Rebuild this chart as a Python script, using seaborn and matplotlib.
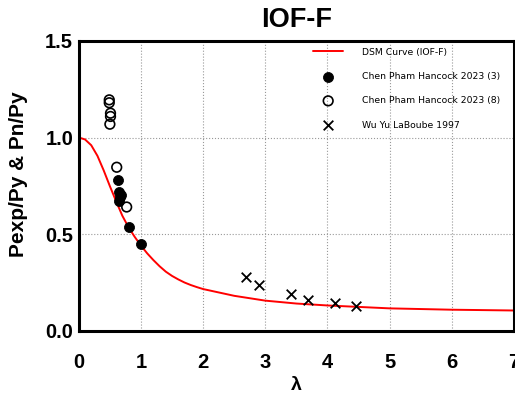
import seaborn as sns
import matplotlib.pyplot as plt
import pandas as pd
import numpy as np

# DSM 曲线 (从图中读取的点)
curve_lam = [0.0, 0.1, 0.2, 0.3, 0.4, 0.5, 0.6, 0.7, 0.8, 0.9, 1.0, 1.1, 1.2,
             1.3, 1.4, 1.5, 1.6, 1.7, 1.8, 1.9, 2.0, 2.5, 3.0, 3.5, 4.0, 5.0,
             6.0, 7.0]
curve_val = [1.0, 0.99, 0.96, 0.905, 0.83, 0.748, 0.67, 0.595, 0.535, 0.485,
             0.44, 0.40, 0.365, 0.333, 0.305, 0.283, 0.265, 0.249, 0.236, 0.225,
             0.215, 0.18, 0.155, 0.14, 0.13, 0.115, 0.108, 0.104]

# Chen Pham Hancock 2023 (3) - 实心圆
chen3_lam = [0.63, 0.65, 0.68, 0.64, 0.66, 0.80, 1.00]
chen3_val = [0.78, 0.72, 0.70, 0.67, 0.69, 0.535, 0.45]

# Chen Pham Hancock 2023 (8) - 空心圆
chen8_lam = [0.49, 0.49, 0.51, 0.51, 0.50, 0.61, 0.77]
chen8_val = [1.195, 1.18, 1.126, 1.109, 1.069, 0.846, 0.64]

# Wu Yu LaBoube 1997 - 叉
wu_lam = [2.69, 2.90, 3.41, 3.68, 4.12, 4.46]
wu_val = [0.28, 0.238, 0.19, 0.159, 0.141, 0.129]

sns.set_style("white")
plt.rcParams['font.family'] = ['Liberation Sans', 'DejaVu Sans']
plt.rcParams['text.color'] = 'black'
plt.rcParams['axes.labelcolor'] = 'black'
plt.rcParams['xtick.color'] = 'black'
plt.rcParams['ytick.color'] = 'black'

fig = plt.figure(figsize=(5.15, 3.94), dpi=100)
ax = fig.add_axes([0.153, 0.161, 0.845, 0.735])

curve = pd.DataFrame({"lam": curve_lam, "val": curve_val})
sns.lineplot(data=curve, x="lam", y="val", color="red", linewidth=1.4,
             label="DSM Curve (IOF-F)", ax=ax, zorder=2)
sns.scatterplot(x=chen3_lam, y=chen3_val, marker="o", s=52, color="black",
                edgecolor="black", label="Chen Pham Hancock 2023 (3)", ax=ax, zorder=3)
sns.scatterplot(x=chen8_lam, y=chen8_val, marker="o", s=48, facecolor="none",
                edgecolor="black", linewidth=1.2,
                label="Chen Pham Hancock 2023 (8)", ax=ax, zorder=3)
sns.scatterplot(x=wu_lam, y=wu_val, marker="x", s=48, color="black",
                linewidth=1.3, label="Wu Yu LaBoube 1997", ax=ax, zorder=3)

ax.set_xlim(0, 7)
ax.set_ylim(0, 1.5)
ax.set_xticks(range(0, 8))
ax.set_yticks([0.0, 0.5, 1.0, 1.5])
ax.set_yticklabels(["0.0", "0.5", "1.0", "1.5"])
ax.grid(True, linestyle=":", color="#999999", linewidth=0.8)
ax.tick_params(axis="x", length=0, pad=16, labelsize=14.5)
ax.tick_params(axis="y", length=0, pad=4, labelsize=14.5)
for lab in ax.get_xticklabels() + ax.get_yticklabels():
    lab.set_fontweight("bold")
for sp in ax.spines.values():
    sp.set_linewidth(2.2)
    sp.set_color("black")

ax.set_xlabel("λ", fontsize=14, fontweight="bold", labelpad=4)
ax.set_ylabel("Pexp/Py & Pn/Py", fontsize=15, fontweight="bold")
ax.yaxis.set_label_coords(-0.117, 0.54)
ax.set_title("IOF-F", fontsize=19.5, fontweight="bold", pad=10)

ax.legend(loc="upper right", bbox_to_anchor=(0.976, 0.99), borderaxespad=0,
          frameon=False, labelspacing=1.65,
          prop={"family": "DejaVu Sans", "size": 6.7},
          handlelength=3.2, handletextpad=2.0)

fig.savefig("out.png", dpi=100)
